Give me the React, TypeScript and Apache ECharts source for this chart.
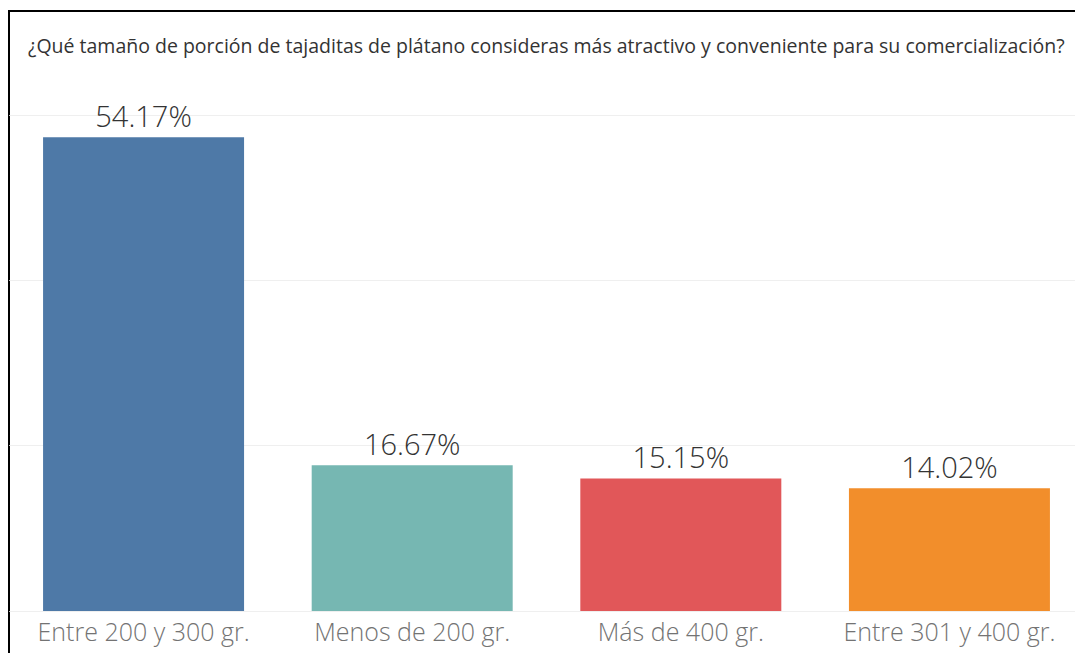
import React, { useEffect, useRef } from "react";
import * as echarts from "echarts";

const titleText =
  "¿Qué tamaño de porción de tajaditas de plátano consideras más atractivo y conveniente para su comercialización?";
const categories = [
  "Entre 200 y 300 gr.",
  "Menos de 200 gr.",
  "Más de 400 gr.",
  "Entre 301 y 400 gr.",
];
const values = [54.17, 16.67, 15.15, 14.02];
const colors = ["#4e79a7", "#76b7b2", "#e15759", "#f28e2b"];

const FONT = "'Open Sans', 'Noto Sans', sans-serif";

export default function App() {
  const ref = useRef<HTMLDivElement>(null);
  useEffect(() => {
    if (!ref.current) return;
    const chart = echarts.init(ref.current, null, { renderer: "svg" });
    chart.setOption({
      animation: false,
      backgroundColor: "#ffffff",
      textStyle: { fontFamily: FONT },
      grid: { left: 9.25, right: 1.25, top: 115, bottom: 42, containLabel: false },
      xAxis: {
        type: "category",
        data: categories,
        axisLine: { show: false },
        axisTick: { show: false },
        axisLabel: {
          interval: 0,
          margin: 7.5,
          fontSize: 25,
          fontWeight: 300,
          color: "#737373",
          fontFamily: FONT,
        },
      },
      yAxis: {
        type: "value",
        min: 0,
        max: 56.7,
        interval: 18.9,
        axisLabel: { show: false },
        axisLine: { show: false },
        axisTick: { show: false },
        splitLine: { show: true, lineStyle: { color: "#efefef", width: 1 } },
      },
      series: [
        {
          type: "bar",
          barWidth: 201,
          data: values.map((v, i) => ({ value: v, itemStyle: { color: colors[i] } })),
          label: {
            show: true,
            position: "top",
            distance: 7,
            fontSize: 29,
            fontWeight: 300,
            color: "#333333",
            fontFamily: FONT,
            formatter: (p: any) => `${Number(p.value).toFixed(2)}%`,
          },
        },
      ],
      graphic: [
        {
          type: "text",
          left: 28,
          top: 35,
          style: {
            text: titleText,
            fontSize: 19.5,
            fill: "#333333",
            fontFamily: FONT,
          },
        },
        {
          type: "line",
          shape: { x1: 8, y1: 11, x2: 1085, y2: 11 },
          style: { stroke: "#000000", lineWidth: 2 },
        },
        {
          type: "line",
          shape: { x1: 9, y1: 10, x2: 9, y2: 653 },
          style: { stroke: "#000000", lineWidth: 2 },
        },
      ],
    });
    return () => chart.dispose();
  }, []);
  return (
    <div
      style={{
        position: "fixed",
        left: 0,
        top: 0,
        width: 1075,
        height: 653,
        overflow: "hidden",
        background: "#ffffff",
      }}
    >
      <div ref={ref} style={{ width: 1085, height: 653 }} />
    </div>
  );
}
